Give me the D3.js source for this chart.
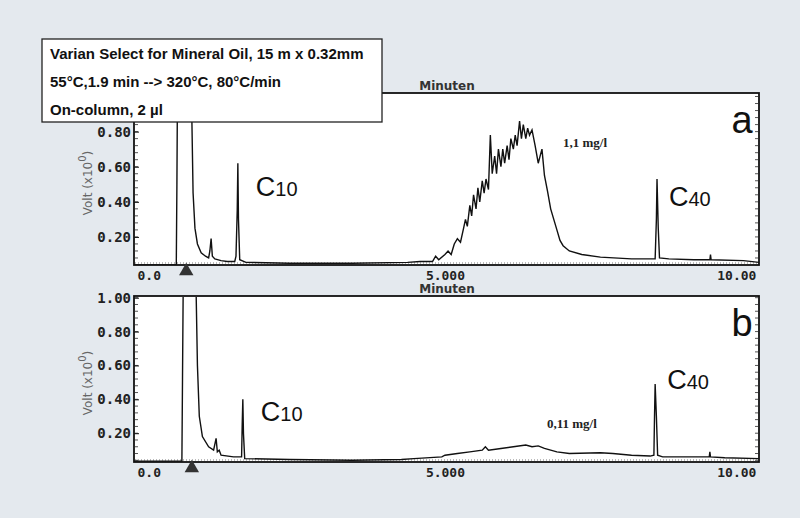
<!DOCTYPE html>
<html><head><meta charset="utf-8">
<script src="https://cdn.jsdelivr.net/npm/d3@7"></script>
<style>body{margin:0;background:#e4e9ee}</style>
</head><body>
<svg id="chart" width="800" height="518"></svg>
<script>
// chromatogram a: [minutes, volt]
var seriesA = [[0,0.04],[0.68,0.04],[0.69,0.5],[0.7,1.1],[0.92,1.1],[0.95,0.45],[0.98,0.25],[1.02,0.16],[1.08,0.11],[1.15,0.09],[1.2,0.08],[1.22,0.12],[1.24,0.19],[1.26,0.09],[1.3,0.075],[1.4,0.065],[1.5,0.06],[1.62,0.06],[1.64,0.09],[1.66,0.35],[1.67,0.62],[1.68,0.3],[1.7,0.07],[1.8,0.055],[2.5,0.05],[3.5,0.05],[4.4,0.055],[4.6,0.06],
  [4.8,0.06],[4.85,0.09],[4.9,0.07],[5.0,0.1],[5.05,0.12],[5.1,0.1],[5.15,0.16],[5.2,0.19],[5.25,0.17],[5.3,0.25],[5.33,0.3],[5.36,0.26],[5.4,0.38],[5.43,0.32],[5.46,0.44],[5.5,0.36],[5.53,0.48],[5.56,0.4],[5.6,0.52],[5.63,0.45],[5.66,0.53],[5.7,0.47],[5.73,0.78],[5.76,0.56],[5.8,0.66],[5.83,0.56],[5.86,0.7],[5.9,0.6],[5.93,0.7],[5.96,0.62],[6.0,0.72],[6.03,0.64],[6.06,0.76],[6.1,0.7],[6.13,0.78],[6.16,0.72],[6.2,0.86],[6.23,0.76],[6.26,0.84],[6.3,0.76],[6.33,0.82],[6.36,0.78],[6.4,0.81],[6.45,0.72],[6.5,0.62],[6.53,0.66],[6.56,0.7],[6.6,0.55],[6.65,0.46],[6.7,0.36],[6.75,0.3],[6.8,0.24],[6.85,0.18],[6.9,0.15],[7.0,0.12],[7.2,0.1],[7.5,0.085],[8.0,0.075],
  [8.38,0.075],[8.4,0.3],[8.41,0.53],[8.43,0.25],[8.45,0.08],[8.6,0.075],[9.0,0.07],[9.26,0.07],[9.27,0.1],[9.28,0.07],[9.8,0.065],[10.05,0.055]];
// chromatogram b
var seriesB = [[0,0.035],[0.77,0.035],[0.78,0.52],[0.79,1.01],[1.0,1.01],[1.02,0.6],[1.05,0.3],[1.1,0.18],[1.2,0.12],[1.28,0.1],[1.32,0.17],[1.34,0.09],[1.37,0.1],[1.4,0.07],[1.6,0.06],[1.73,0.06],[1.74,0.25],[1.75,0.4],[1.76,0.2],[1.78,0.05],[2.5,0.045],[3.5,0.04],[4.3,0.045],[4.5,0.05],
  [4.95,0.06],[5.0,0.07],[5.2,0.08],[5.4,0.09],[5.6,0.1],[5.65,0.12],[5.7,0.1],[5.9,0.11],[6.1,0.12],[6.3,0.13],[6.4,0.12],[6.5,0.125],[6.6,0.11],[6.8,0.09],[7.0,0.08],[7.5,0.085],[7.7,0.08],[8.0,0.07],[8.3,0.065],[8.36,0.07],[8.37,0.3],[8.38,0.49],[8.4,0.3],[8.42,0.07],[8.5,0.06],[9.25,0.06],[9.26,0.09],[9.27,0.06],[9.5,0.055],[10.05,0.05]];
var xTicks = [0, 5, 10];
var xTickLabels = ["0.0", "5.000", "10.00"];
var yTicksA = [0.2, 0.4, 0.6, 0.8];
var yTicksB = [0.2, 0.4, 0.6, 0.8, 1.0];
var infoLines = ["Varian Select for Mineral Oil, 15 m x 0.32mm", "55°C,1.9 min --> 320°C, 80°C/min", "On-column, 2 µl"];

var svg = d3.select("#chart");
var mono = "'DejaVu Sans Mono', monospace";

function panel(cfg) {
  var x = d3.scaleLinear().domain([0, 10.05]).range([134, 759]);
  var y = d3.scaleLinear().domain(cfg.yDomain).range([cfg.bottom, cfg.top]);
  var g = svg.append("g");
  g.append("rect").attr("x", 134).attr("y", cfg.top).attr("width", 625).attr("height", cfg.bottom - cfg.top)
    .attr("fill", "#fff").attr("stroke", "#111").attr("stroke-width", 1.8);

  // minor ticks left and right
  var minor = d3.range(0, 1.05, 0.04).filter(function(v) { return y(v) > cfg.top && y(v) < cfg.bottom; });
  g.selectAll(".ml").data(minor).enter().append("line")
    .attr("x1", 135).attr("x2", 138).attr("y1", function(d) { return y(d); }).attr("y2", function(d) { return y(d); })
    .attr("stroke", "#555");
  g.selectAll(".mr").data(minor).enter().append("line")
    .attr("x1", 755).attr("x2", 758).attr("y1", function(d) { return y(d); }).attr("y2", function(d) { return y(d); })
    .attr("stroke", "#555");

  g.append("g").attr("transform", "translate(134,0)")
    .call(d3.axisLeft(y).tickValues(cfg.yTicks).tickSize(5).tickFormat(d3.format(".2f")))
    .call(function(a) {
      a.select(".domain").remove();
      a.selectAll("line").attr("transform", "translate(5,0)").attr("stroke", "#111");
      a.selectAll("text").attr("x", -3).attr("font-family", mono).attr("font-weight", "bold").attr("font-size", 14).attr("fill", "#222");
    });

  // dotted baseline
  g.append("line").attr("x1", 135).attr("x2", 758).attr("y1", cfg.bottom - 2).attr("y2", cfg.bottom - 2)
    .attr("stroke", "#777").attr("stroke-dasharray", "1,2");

  g.append("g").attr("transform", "translate(0," + cfg.bottom + ")")
    .call(d3.axisBottom(x).tickValues(xTicks).tickSize(0).tickPadding(6).tickFormat(function(d, i) { return xTickLabels[i]; }))
    .call(function(a) {
      a.select(".domain").remove();
      a.selectAll("text").attr("font-family", mono).attr("font-weight", "bold").attr("font-size", 13).attr("fill", "#222")
        .attr("text-anchor", function(d) { return d === 0 ? "start" : d === 10 ? "end" : "middle"; })
        .attr("dx", function(d) { return d === 0 ? 3 : 0; });
    });

  g.append("text").attr("x", 447).attr("y", cfg.top - 3).attr("text-anchor", "middle")
    .attr("font-family", "'DejaVu Sans', sans-serif").attr("font-weight", "bold").attr("font-size", 12).attr("fill", "#333").text("Minuten");

  g.append("text").attr("transform", "translate(92," + ((cfg.top + cfg.bottom) / 2 + 4) + ") rotate(-90)")
    .attr("text-anchor", "middle").attr("font-family", "'DejaVu Sans', sans-serif").attr("font-size", 12).attr("fill", "#666")
    .text("Volt (x10").append("tspan").attr("dy", -6).attr("font-size", 10).text("0")
    .select(function() { return this.parentNode; }).append("tspan").attr("dy", 6).text(")");

  var clipId = "clip" + cfg.name;
  g.append("clipPath").attr("id", clipId).append("rect").attr("x", 134).attr("y", cfg.top + 1).attr("width", 625).attr("height", cfg.bottom - cfg.top - 1);
  g.append("path").datum(cfg.data).attr("clip-path", "url(#" + clipId + ")")
    .attr("d", d3.line().x(function(d) { return x(d[0]); }).y(function(d) { return y(d[1]); }))
    .attr("fill", "none").attr("stroke", "#111").attr("stroke-width", 1.4);

  // injection marker
  g.append("path").attr("d", d3.symbol(d3.symbolTriangle, 90)())
    .attr("transform", "translate(" + x(cfg.inject) + "," + (cfg.bottom + 6) + ")").attr("fill", "#333");

  g.append("text").attr("x", 742).attr("y", cfg.top + 40).attr("text-anchor", "middle")
    .attr("font-family", "'Liberation Sans', Arial").attr("font-size", 38).attr("fill", "#111").text(cfg.name);

  function cLabel(t, v, sub, dx) {
    var tx = g.append("text").attr("x", x(t) + dx).attr("y", y(v) + 8)
      .attr("font-family", "'Liberation Sans', Arial").attr("font-size", 27).attr("fill", "#111").text("C");
    tx.append("tspan").attr("font-size", 20).text(sub);
  }
  cLabel(cfg.c10[0], cfg.c10[1], "10", 18);
  cLabel(cfg.c40[0], cfg.c40[1], "40", 12);

  g.append("text").attr("x", cfg.conc[0]).attr("y", cfg.conc[1])
    .attr("font-family", "'Liberation Serif', serif").attr("font-weight", "bold").attr("font-size", 13).attr("fill", "#222").text(cfg.conc[2]);
}

panel({ name: "a", data: seriesA, top: 93, bottom: 265, yDomain: [0.04, 1.02], yTicks: yTicksA, inject: 0.84,
  c10: [1.67, 0.48], c40: [8.41, 0.42], conc: [563, 147, "1,1 mg/l"] });
panel({ name: "b", data: seriesB, top: 296, bottom: 462, yDomain: [0.03, 1.01], yTicks: yTicksB, inject: 0.93,
  c10: [1.75, 0.32], c40: [8.38, 0.51], conc: [547, 428, "0,11 mg/l"] });

// info box
var box = svg.append("g");
box.append("rect").attr("x", 42).attr("y", 39).attr("width", 340).attr("height", 83).attr("fill", "#fff").attr("stroke", "#222").attr("stroke-width", 1.3);
box.selectAll("text").data(infoLines).enter().append("text")
  .attr("x", 50).attr("y", function(d, i) { return 59 + i * 28; })
  .attr("font-family", "'Liberation Sans', Arial").attr("font-weight", "bold").attr("font-size", 15).attr("fill", "#111")
  .text(function(d) { return d; });
</script>
</body></html>
